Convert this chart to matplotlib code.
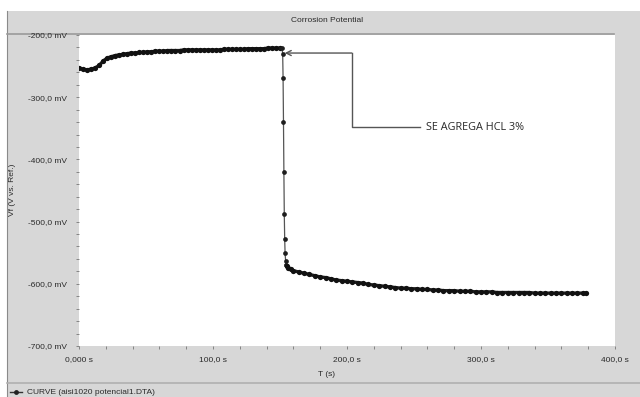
import matplotlib
matplotlib.use("Agg")
import matplotlib.pyplot as plt
from matplotlib.patches import Rectangle
from matplotlib.lines import Line2D
from matplotlib.ticker import FixedLocator, MultipleLocator, FixedFormatter

# ---- data ----
t_plateau = [0, 3, 6, 9, 12, 15, 18, 21, 24, 27, 30, 33, 36, 39, 42, 45, 48, 51, 54, 57,
             60, 63, 66, 69, 72, 75, 78, 81, 84, 87, 90, 93, 96, 99, 102, 105, 108, 111,
             114, 117, 120, 123, 126, 129, 132, 135, 138, 141, 144, 147, 150]
v_plateau = [-253, -255, -256, -255, -253, -249, -242, -237, -235, -233, -232, -231, -230,
             -229, -229, -228, -228, -227, -227, -226, -226, -226, -225, -225, -225, -225,
             -224, -224, -224, -224, -224, -224, -224, -224, -224, -224, -223, -223, -223,
             -223, -223, -223, -222, -222, -222, -222, -222, -221, -221, -221, -221]

t_drop = [151.5, 152.0, 152.3, 152.6, 152.9, 153.2, 153.5, 153.8, 154.2, 154.6]
v_drop = [-221, -231, -269, -340, -420, -488, -528, -551, -563, -570]

t_tail = [155, 156, 158, 160, 164, 168, 172, 176, 180, 184, 188, 192, 196, 200, 204, 208,
          212, 216, 220, 224, 228, 232, 236, 240, 244, 248, 252, 256, 260, 264, 268, 272,
          276, 280, 284, 288, 292, 296, 300, 304, 308, 312, 316, 320, 324, 328, 332, 336,
          340, 344, 348, 352, 356, 360, 364, 368, 372, 376, 378]
v_tail = [-572, -575, -577, -579, -581, -583, -585, -587, -589, -590, -592, -594, -595,
          -596, -597, -598, -599, -601, -602, -603, -604, -605, -606, -607, -607, -608,
          -608, -609, -609, -610, -610, -611, -611, -611, -612, -612, -612, -613, -613,
          -613, -613, -614, -614, -614, -614, -614, -614, -614, -615, -615, -615, -615,
          -615, -615, -615, -615, -615, -615, -615]

x_ticks = [0, 100, 200, 300, 400]
x_labels = ["0,000 s", "100,0 s", "200,0 s", "300,0 s", "400,0 s"]
y_ticks = [-700, -600, -500, -400, -300, -200]
y_labels = ["-700,0 mV", "-600,0 mV", "-500,0 mV", "-400,0 mV", "-300,0 mV", "-200,0 mV"]

title = "Corrosion Potential"
xlabel = "T (s)"
ylabel = "Vf (V vs. Ref.)"
legend_label = "CURVE (aisi1020 potencial1.DTA)"
note = "SE AGREGA HCL 3%"

W, H = 640, 397
GREY = "#d7d7d7"
LINEGREY = "#9a9a9a"
TXT = "#2a2a2a"

fig = plt.figure(figsize=(W / 100, H / 100), dpi=100, facecolor="white")
plt.rcParams['font.family'] = ['Liberation Sans', 'DejaVu Sans']


def fx(px):
    return px / W


def fy(py):
    return 1 - py / H


# grey window background
fig.add_artist(Rectangle((fx(7), 0), 1 - fx(7), fy(11), transform=fig.transFigure,
                         facecolor=GREY, edgecolor="none", zorder=-10))
fig.add_artist(Line2D([fx(7), fx(7)], [0, fy(11)], color="#8a8a8a", lw=0.8, zorder=-5))
# title separator
fig.add_artist(Line2D([fx(7), fx(614)], [fy(33.5), fy(33.5)], color=LINEGREY, lw=1.2,
                      zorder=-5))
# legend separator
fig.add_artist(Line2D([fx(7), 1], [fy(383), fy(383)], color="#b0b0b0", lw=1.2, zorder=-5))

fig.text(fx(327), fy(20), title, ha="center", va="center", fontsize=6, color=TXT)

ax = fig.add_axes([fx(79), fy(346), fx(615) - fx(79), fy(35) - fy(346)], zorder=1)
ax.set_facecolor("white")
for s in ax.spines.values():
    s.set_visible(False)

line_kw = dict(color="#1e1e1e", marker="o", markersize=3.8, lw=2.4,
               markeredgewidth=0, markerfacecolor="#111111")
ax.plot(t_plateau, v_plateau, **line_kw)
ax.plot([t_plateau[-1], t_drop[0]], [v_plateau[-1], v_drop[0]], color="#1e1e1e", lw=2.0)
ax.plot(t_drop, v_drop, color="#555555", marker="o", markersize=3.4, lw=0.9,
        markeredgewidth=0, markerfacecolor="#1e1e1e")
ax.plot([t_drop[-1], t_tail[0]], [v_drop[-1], v_tail[0]], color="#1e1e1e", lw=2.0)
ax.plot(t_tail, v_tail, **line_kw)

ax.set_xlim(0, 400)
ax.set_ylim(-700, -200)
ax.xaxis.set_major_locator(FixedLocator(x_ticks))
ax.xaxis.set_major_formatter(FixedFormatter(x_labels))
ax.xaxis.set_minor_locator(MultipleLocator(20))
ax.yaxis.set_major_locator(FixedLocator(y_ticks))
ax.yaxis.set_major_formatter(FixedFormatter(y_labels))
ax.yaxis.set_minor_locator(MultipleLocator(20))
ax.tick_params(which="both", direction="out", length=2.5, width=0.6, color="#777777")
ax.tick_params(axis="both", which="major", labelsize=6, labelcolor=TXT)
ax.tick_params(axis="y", pad=6)
ax.tick_params(axis="x", pad=5)

fig.text(fx(327), fy(374), xlabel, ha="center", va="center", fontsize=6, color=TXT)
fig.text(fx(13), fy(190), ylabel, ha="center", va="center", fontsize=6, color=TXT,
         rotation=90)

# annotation
ax.plot([254.5, 203.5, 203.5], [-348, -348, -229], color="#555555", lw=1.0)
ax.annotate("", xy=(153.5, -229), xytext=(203.5, -229),
            arrowprops=dict(arrowstyle="->", color="#555555", lw=1.0,
                            mutation_scale=9, shrinkA=0, shrinkB=0))
ax.text(259, -348, note, ha="left", va="center", fontsize=7.8, color="#2a2a2a",
        family=["Open Sans", "DejaVu Sans"])

# legend row
fig.add_artist(Line2D([fx(10), fx(22)], [fy(392), fy(392)], color="#333333", lw=1.0))
fig.add_artist(Line2D([fx(16)], [fy(392)], color="#222222", marker="o", markersize=3.5,
                      markeredgewidth=0, lw=0))
fig.text(fx(27), fy(392), legend_label, ha="left", va="center", fontsize=6, color=TXT)

fig.savefig("out.png", dpi=100, facecolor=fig.get_facecolor())
